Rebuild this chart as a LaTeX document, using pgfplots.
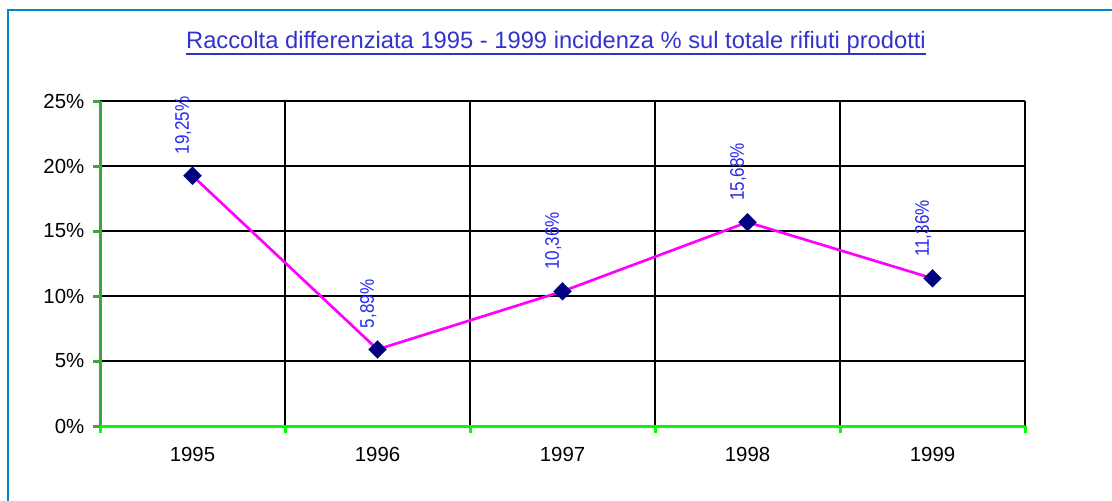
\documentclass[border=0pt]{standalone}
\usepackage{pgfplots}
\pgfplotsset{compat=1.18}
\usepackage{fontspec}
\setmainfont{Liberation Sans}
\definecolor{frameblue}{RGB}{0,136,204}
\definecolor{titleblue}{RGB}{51,51,204}
\definecolor{lblue}{RGB}{40,40,240}
\definecolor{navymark}{RGB}{0,0,128}
\definecolor{dgreen}{RGB}{60,168,60}
\definecolor{bgreen}{RGB}{0,255,0}
\definecolor{mag}{RGB}{255,0,255}
\begin{document}
\begin{tikzpicture}
\path[use as bounding box] (0,0) rectangle (834pt,-375pt);
\draw[color=frameblue, line width=1.4pt] (6pt,-376pt) -- (6pt,-7.5pt) -- (835pt,-7.5pt);
\node[text=titleblue, font=\fontsize{17.8}{21}\selectfont, inner sep=0pt, anchor=base] (t) at (417pt,-36.2pt) {Raccolta differenziata 1995 - 1999 incidenza \% sul totale rifiuti prodotti};
\draw[titleblue, line width=1.5pt] ([yshift=-4.5pt]t.base west) -- ([yshift=-4.5pt]t.base east);
\begin{axis}[
  at={(75pt,-319.5pt)}, anchor=south west,
  scale only axis, width=693.75pt, height=243.75pt,
  xmin=0.5, xmax=5.5, ymin=0, ymax=25,
  xtick={1,2,3,4,5}, xticklabels={1995,1996,1997,1998,1999},
  minor xtick={0.5,1.5,2.5,3.5,4.5,5.5},
  ytick={0,5,10,15,20,25},
  yticklabel={\pgfmathprintnumber{\tick}\%},
  /pgf/number format/assume math mode=true,
  xminorgrids=true, ymajorgrids=true,
  minor x grid style={black, line width=0.9pt},
  major y grid style={black, line width=0.9pt},
  axis line style={draw=none},
  tick align=outside, xtick pos=bottom, ytick pos=left,
  major tick length=5.25pt, minor tick length=5.25pt,
  major x tick style={draw=none},
  minor x tick style={color=bgreen, line width=2.25pt},
  major y tick style={color=dgreen, line width=2.25pt},
  ticklabel style={font=\fontsize{15.3}{18}\selectfont},
  yticklabel style={xshift=-3pt},
  xticklabel style={yshift=-7pt},
  clip=false,
]
\draw[dgreen, line width=2.25pt] (axis cs:0.5,0) -- (axis cs:0.5,25);
\draw[bgreen, line width=2.25pt] (axis cs:0.5,0) -- (axis cs:5.5,0);
\addplot[color=mag, line width=2pt, mark=square*, mark size=4.8pt,
  mark options={rotate=45, fill=navymark, draw=navymark, line width=0.1pt},
  point meta=explicit symbolic,
  nodes near coords={\scalebox{1}[1.15]{\pgfplotspointmeta}},
  every node near coord/.style={font=\fontsize{12.8}{15}\selectfont, text=lblue, inner sep=0pt, xshift=-7pt, yshift=16pt, rotate=90, anchor=west}]
coordinates {(1,19.25) [19,25\%] (2,5.89) [5,89\%] (3,10.36) [10,36\%] (4,15.68) [15,68\%] (5,11.36) [11,36\%]};
\end{axis}
\end{tikzpicture}
\end{document}
